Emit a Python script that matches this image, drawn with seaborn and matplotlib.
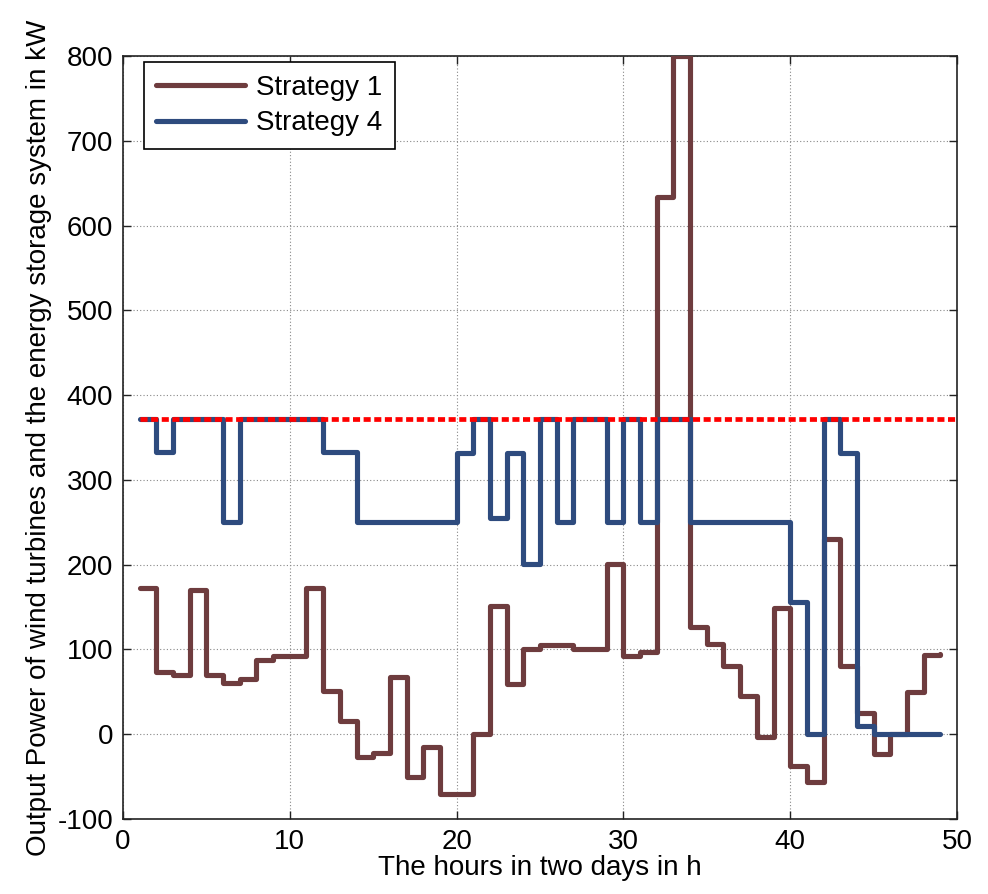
import numpy as np
import pandas as pd
import seaborn as sns
import matplotlib
matplotlib.use("Agg")
import matplotlib.pyplot as plt
from matplotlib.lines import Line2D

hours = list(range(1, 50))
strategy1 = [173, 73, 70, 170, 70, 61, 65, 87, 92, 92,
             173, 51, 16, -27, -22, 68, -50, -15, -70, -70,
             0, 151, 59, 101, 105, 105, 101, 101, 201, 92,
             97, 634, 800, 126, 106, 81, 45, -3, 149, -38,
             -56, 230, 81, 25, -23, 0, 50, 93, 95]
strategy4 = [372, 333, 372, 372, 372, 250, 372, 372, 372, 372,
             372, 333, 333, 250, 250, 250, 250, 250, 250, 332,
             372, 255, 332, 201, 372, 250, 372, 372, 250, 372,
             250, 372, 372, 250, 250, 250, 250, 250, 250, 156,
             0, 372, 332, 10, 0, 0, 0, 0, 0]
threshold = 372
series_names = ["Strategy 1", "Strategy 4"]
series_colors = ["#6E3C3E", "#2E4B7E"]
xticks = [0, 10, 20, 30, 40, 50]
yticks = [-100, 0, 100, 200, 300, 400, 500, 600, 700, 800]

sns.set_theme(style="white")
plt.rcParams['font.family'] = ['Liberation Sans', 'DejaVu Sans']
plt.rcParams['axes.unicode_minus'] = False
plt.rcParams['text.color'] = 'black'
plt.rcParams['axes.labelcolor'] = 'black'

df = pd.DataFrame({
    "hour": hours * 2,
    "power": strategy1 + strategy4,
    "series": [series_names[0]] * len(hours) + [series_names[1]] * len(hours),
})

fig = plt.figure(figsize=(9.88, 8.94), dpi=100)
ax = fig.add_axes([123/988, 1 - 819/894, (957-123)/988, (819-56)/894])

sns.lineplot(data=df, x="hour", y="power", hue="series",
             palette=dict(zip(series_names, series_colors)),
             drawstyle="steps-post", linewidth=3.7, ax=ax,
             estimator=None, sort=False, legend=False, zorder=3)

ax.plot([hours[0], xticks[-1]], [threshold, threshold], color="#FF0000",
        linewidth=3.4, dashes=(1.5, 0.75), dash_capstyle="butt", zorder=4)

ax.set_xlim(xticks[0], xticks[-1])
ax.set_ylim(yticks[0], yticks[-1])
ax.set_xticks(xticks)
ax.set_yticks(yticks)
ax.grid(True, linestyle=(0, (1, 2)), color="#888888", linewidth=0.8)
ax.tick_params(direction="in", length=6, width=1, colors="#222222",
               labelsize=20, labelcolor="black", top=True, right=True,
               left=True, bottom=True, pad=7)
for s in ax.spines.values():
    s.set_color("#222222")
    s.set_linewidth(1.2)
    s.set_visible(True)

ax.set_xlabel("The hours in two days in h", fontsize=20, labelpad=0, color="black")
ax.set_ylabel("Output Power of wind turbines and the energy storage system in kW",
              fontsize=20, labelpad=4, color="black")

handles = [Line2D([], [], color=c, linewidth=3.7) for c in series_colors]
leg = ax.legend(handles, series_names, loc="upper left",
                bbox_to_anchor=(0.025, 0.992), fontsize=20, frameon=True,
                fancybox=False, edgecolor="black", framealpha=1,
                handlelength=3.2, handletextpad=0.4, labelspacing=0.35,
                borderpad=0.45, borderaxespad=0)
leg.get_frame().set_linewidth(1.2)
for t in leg.get_texts():
    t.set_color("black")

fig.savefig("out.png", dpi=100)
